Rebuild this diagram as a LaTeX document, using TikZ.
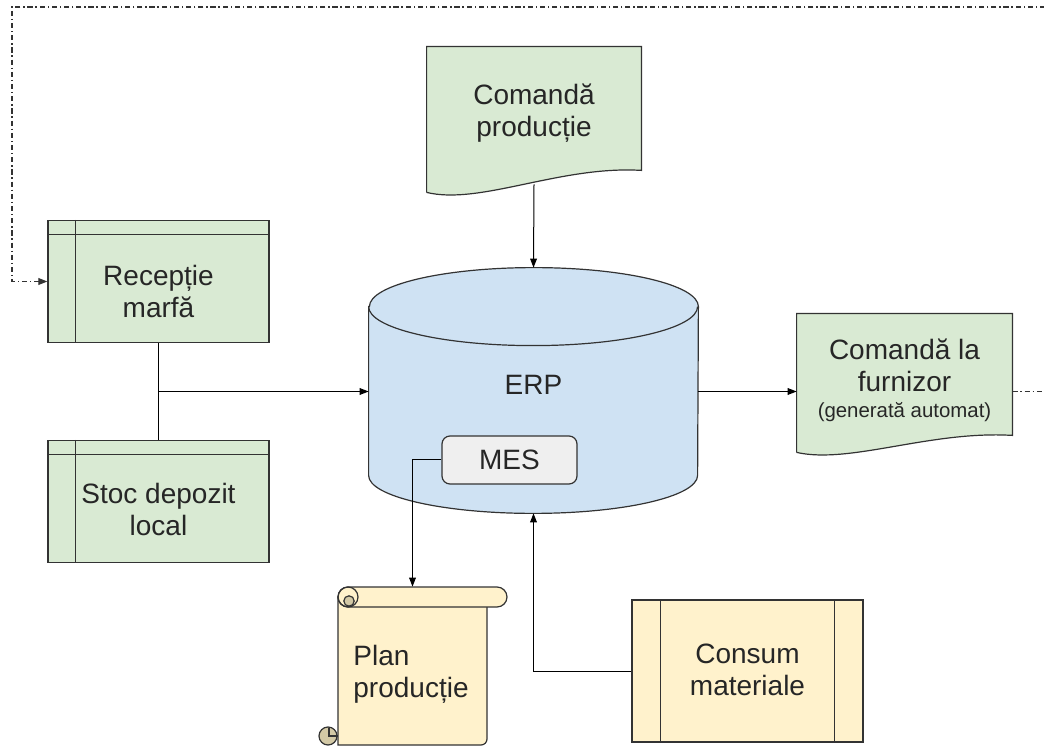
\documentclass[tikz,border=0pt]{standalone}
\usepackage{fontspec}
\setmainfont{Liberation Sans}
\usetikzlibrary{positioning,arrows.meta,calc}

\definecolor{linec}{HTML}{333333}
\definecolor{greenc}{HTML}{D9EAD3}
\definecolor{bluec}{HTML}{CFE2F3}
\definecolor{yellowc}{HTML}{FFF2CC}
\definecolor{grayc}{HTML}{EFEFEF}
\definecolor{curlc}{HTML}{D3C9A6}

\begin{document}
\begin{tikzpicture}[
	x=0.5pt, y=-0.5pt,
	every node/.style={font=\fontsize{14}{16}\selectfont, text=black!85},
	store/.style={rectangle, draw=linec, line width=0.6pt, fill=greenc, minimum width=110.5pt, minimum height=61pt, inner sep=0},
	proc/.style={rectangle, draw=linec, line width=0.6pt, fill=yellowc, minimum width=115.5pt, minimum height=71pt, inner sep=0},
	mesbox/.style={rectangle, rounded corners=4pt, draw=linec, line width=0.6pt, fill=grayc, minimum width=67.5pt, minimum height=24pt},
	frame/.style={rectangle, inner sep=0},
	shapeline/.style={draw=linec, line width=0.6pt},
	txt/.style={align=center, inner sep=0},
	conn/.style={line width=0.5pt, draw=black},
	tip/.style={-{Triangle[length=4.5pt,width=3.4pt]}},
	loopline/.style={conn, draw=black!80, line width=0.55pt, dash pattern=on 2.6pt off 1.4pt on 0.7pt off 1.4pt}
]
\useasboundingbox (0,0) rectangle (1044,748);
\clip (0,0) rectangle (1044,748);

% depozit
\node[store] (rec) at (158.5,281.5) {};
\node[store] (sto) at (158.5,501.5) {};
\foreach \n in {rec,sto}
	\draw[shapeline] ([xshift=14pt]\n.north west) -- ([xshift=14pt]\n.south west)
		([yshift=-7.5pt]\n.north west) -- ([yshift=-7.5pt]\n.north east);
\node[txt] (rectext) at (158.5,291) {Recepție\\marfă};
\node[txt] (stotext) at (158.5,509) {Stoc depozit\\local};

% ERP
\node[frame, minimum width=164.5pt, minimum height=122.5pt] (erp) at (533.5,390.5) {};
\filldraw[shapeline, fill=bluec] ([yshift=-19.5pt]erp.north west) -- ([yshift=19pt]erp.south west)
	arc[start angle=180, end angle=360, x radius=82.25pt, y radius=19pt]
	-- ([yshift=-19.5pt]erp.north east)
	arc[start angle=0, end angle=180, x radius=82.25pt, y radius=19.5pt] -- cycle;
\draw[shapeline] ([yshift=-19.5pt]erp.north west) arc[start angle=180, end angle=360, x radius=82.25pt, y radius=19.5pt];
\node (erptext) at (533.5,385) {ERP};
\node[mesbox] (mes) at (509.5,460) {MES};

% documente
\node[frame, minimum width=107pt, minimum height=72.5pt] (cp) at (534,119.5) {};
\filldraw[shapeline, fill=greenc] (cp.south west) -- (cp.north west) -- (cp.north east) -- ([yshift=11pt]cp.south east)
	.. controls +(-40.5pt,2.5pt) and +(26.5pt,-6.5pt) .. (cp.south west);
\node[txt] (cptext) at (534,113) {Comandă\\producție};

\node[frame, minimum width=107.5pt, minimum height=69pt] (cf) at (904.5,383) {};
\filldraw[shapeline, fill=greenc] (cf.south west) -- (cf.north west) -- (cf.north east) -- ([yshift=8.5pt]cf.south east)
	.. controls +(-41pt,2.5pt) and +(26.5pt,-6pt) .. (cf.south west);
\node[txt] (cftext) at (904.5,380) {Comandă la\\furnizor\\[-3.2pt]{\fontsize{10.2}{12}\selectfont(generată automat)}};

% plan
\node[frame, minimum width=74.5pt, minimum height=79pt] (plan) at (412.5,666) {};
\filldraw[shapeline, fill=yellowc] (338,597) -- (338,745) [rounded corners=3pt] -- (487,745) -- (487,597) [sharp corners] -- cycle;
\filldraw[shapeline, fill=yellowc, rounded corners=5pt] (338,587) rectangle (507,607);
\draw[shapeline] (348,597) circle[radius=5pt];
\filldraw[shapeline, fill=curlc] (349,601) circle[radius=2.6pt];
\filldraw[shapeline, fill=curlc] (328,736) circle[radius=4.5pt];
\draw[shapeline] (329,728) -- (329,736) -- (338,736);
\node[anchor=west, align=left, inner sep=0] (plantext) at (353,674) {Plan\\producție};

% consum
\node[proc] (con) at (747.5,671) {};
\draw[shapeline] ([xshift=14.5pt]con.north west) -- ([xshift=14.5pt]con.south west)
	([xshift=-14.5pt]con.north east) -- ([xshift=-14.5pt]con.south east);
\node[txt] (context) at (747.5,670) {Consum\\materiale};

% legaturi
\coordinate (jn) at (rec.south |- 0,391.5);
\draw[conn] (rec.south) -- (sto.north);
\draw[conn, tip] (jn) -- (jn -| erp.west);
\draw[conn, tip] ([yshift=4pt]cp.south) -- (erp.north);
\draw[conn, tip] (jn -| erp.east) -- (jn -| cf.west);
\draw[conn, tip] (mes.west) -| (plan.north);
\draw[conn, tip] (con.west) -| (erp.south);
\coordinate (loopR) at (1050,391.5);
\coordinate (loopT) at (1050,7);
\draw[loopline, tip] (jn -| cf.east) -- (loopR) -- (loopT) -- (12,7) |- (rec.west);
\end{tikzpicture}
\end{document}
